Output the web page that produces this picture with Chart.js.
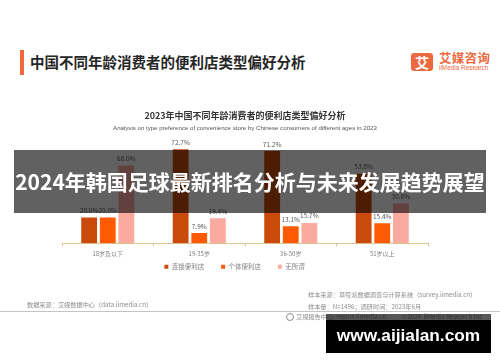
<!DOCTYPE html>
<html lang="zh-CN">
<head>
<meta charset="utf-8">
<script src="https://cdn.jsdelivr.net/npm/chart.js@4.4.1/dist/chart.umd.min.js"></script>
<style>
  html, body { margin: 0; padding: 0; background: #fff; }
  #page { position: relative; width: 500px; height: 362px; overflow: hidden; background: #fff;
          font-family: "Noto Sans CJK SC", "Noto Sans", sans-serif; }
  .abs { position: absolute; white-space: nowrap; }
  .mid { transform: translateY(-50%); line-height: 1; }
  #chartBox { position: absolute; left: 0; top: 100px; width: 500px; height: 193px; }
  #accent { left: 20px; top: 50px; width: 4px; height: 25px; background: #f0693a; }
  #heading { left: 30px; top: 62px; font-size: 14.5px; font-weight: 700; color: #262626; }
  #logoBox { left: 411px; top: 53px; width: 22px; height: 18px; background: #ec6a3f; border-radius: 3px;
             color: #fff; font-size: 14px; font-weight: 700; text-align: center; line-height: 18px; }
  #logoCn { left: 439px; top: 58px; font-size: 12.5px; font-weight: 700; color: #ec6a3f; letter-spacing: 0.3px; }
  #logoEn { left: 439px; top: 68px; font-size: 6.4px; color: #ec6a3f; font-family: "Liberation Sans", sans-serif; }
  .foot { font-size: 6.2px; color: #8c8c8c; }
  #rule { left: 0; top: 311px; width: 500px; height: 1px; background: #c4c4c4; }
  #icon { left: 286px; top: 313px; width: 6px; height: 6px; border: 1px solid #8c8c8c; border-radius: 50%; }
  #banner { left: 14px; top: 150px; width: 472px; height: 63px; background: rgba(0,0,0,0.62);
            color: #fff; font-size: 21px; font-weight: 700; text-align: center; line-height: 63px; z-index: 2; }
  #mark { left: 326px; top: 314px; width: 165px; height: 39px;
          background: linear-gradient(to bottom, rgba(0,0,0,0.66) 0, rgba(0,0,0,0.66) 6px, #000 6px);
          color: #fff; font-family: "Liberation Sans", sans-serif; font-weight: 700; font-size: 17.3px;
          text-align: center; line-height: 42px; z-index: 3; }
</style>
</head>
<body>
<div id="page">
  <div id="accent" class="abs"></div>
  <div id="heading" class="abs mid">中国不同年龄消费者的便利店类型偏好分析</div>
  <div id="logoBox" class="abs">艾</div>
  <div id="logoCn" class="abs mid">艾媒咨询</div>
  <div id="logoEn" class="abs mid">iiMedia Research</div>

  <div id="chartBox"><canvas id="chart" width="500" height="193"></canvas></div>

  <div class="abs mid foot" style="left:308px; top:295px;">样本来源：草莓派数据调查与计算系统（survey.iimedia.cn）</div>
  <div class="abs mid foot" style="left:27px; top:305px;">数据来源：艾媒数据中心（data.iimedia.cn）</div>
  <div class="abs mid foot" style="left:308px; top:307px;">样本量：N=1496；调研时间：2023年6月</div>
  <div id="rule" class="abs"></div>
  <div id="icon" class="abs"></div>
  <div class="abs mid foot" style="left:296px; top:316.5px;">艾媒报告中心: report.iimedia.cn</div>
  <div class="abs mid foot" style="left:402px; top:316.5px;">©2024&nbsp; iiMedia Research Inc</div>

  <div id="banner" class="abs">2024年韩国足球最新排名分析与未来发展趋势展望</div>
  <div id="mark" class="abs">www.aijialan.com</div>
</div>

<script>
// Age groups and the share (%) of each store-type preference
const ageGroups = ['18岁及以下', '19-35岁', '36-50岁', '51岁以上'];
const chainStore = [20.0, 72.7, 71.2, 53.8];
const independentStore = [20.0, 7.9, 13.1, 15.4];
const noPreference = [60.0, 19.4, 15.7, 30.8];
const seriesNames = ['连锁便利店', '个体便利店', '无所谓'];

const FONT = '"Noto Sans CJK SC", "Noto Sans", sans-serif';

// Percentage labels above every bar
const valueLabels = {
  id: 'valueLabels',
  afterDatasetsDraw(chart) {
    const ctx = chart.ctx;
    ctx.save();
    ctx.font = '6.5px ' + FONT;
    ctx.fillStyle = '#595959';
    ctx.textAlign = 'center';
    ctx.textBaseline = 'middle';
    chart.data.datasets.forEach((ds, i) => {
      chart.getDatasetMeta(i).data.forEach((bar, j) => {
        ctx.fillText(ds.data[j].toFixed(1) + '%', bar.x, bar.y - 7);
      });
    });
    ctx.restore();
  }
};

// Pull the legend row up close under the axis labels and slightly left
const legendOffset = {
  id: 'legendOffset',
  afterLayout(chart) {
    const lg = chart.legend;
    if (!lg) return;
    lg.top -= 12.9; lg.bottom -= 12.9;
    lg.left -= 10.5; lg.right -= 10.5;
  }
};

new Chart(document.getElementById('chart'), {
  type: 'bar',
  data: {
    labels: ageGroups,
    datasets: [
      { label: seriesNames[0], data: chainStore, backgroundColor: '#c94a0a' },
      { label: seriesNames[1], data: independentStore, backgroundColor: '#fe5b00' },
      { label: seriesNames[2], data: noPreference, backgroundColor: '#fbaaa0' }
    ]
  },
  options: {
    responsive: false,
    animation: false,
    devicePixelRatio: 1,
    categoryPercentage: 0.61,
    barPercentage: 0.85,
    layout: { padding: { left: 62, right: 72, top: 0, bottom: 0.2 } },
    scales: {
      x: {
        grid: { display: true, drawOnChartArea: false, drawTicks: true, tickLength: 3, color: '#dcc58e', offset: true },
        border: { display: true, color: '#dcc58e', width: 1 },
        ticks: { color: '#7f7f7f', font: { family: FONT, size: 6, lineHeight: 1.2 }, padding: 3.7 },
        afterFit(scale) { scale.height = 16; }
      },
      y: { display: false, min: 0, max: 80 }
    },
    plugins: {
      title: {
        display: true,
        text: '2023年中国不同年龄消费者的便利店类型偏好分析',
        color: '#333333',
        font: { family: FONT, size: 9, weight: 'bold', lineHeight: 1.2 },
        padding: { top: 10.6, bottom: 0 }
      },
      subtitle: {
        display: true,
        text: 'Analysis on type preference of convenience store by Chinese consumers of different ages in 2023',
        color: '#555555',
        font: { family: '"Liberation Sans", sans-serif', size: 6.1, lineHeight: 1.2 },
        padding: { top: 3, bottom: 8 }
      },
      legend: {
        position: 'bottom',
        labels: {
          boxWidth: 4, boxHeight: 4, padding: 17, color: '#7f7f7f',
          font: { family: FONT, size: 6.5, lineHeight: 1.2 }
        }
      },
      tooltip: { enabled: false }
    }
  },
  plugins: [valueLabels, legendOffset]
});
</script>
</body>
</html>
